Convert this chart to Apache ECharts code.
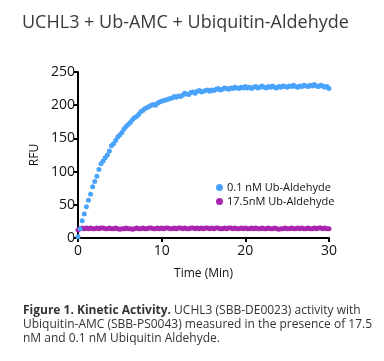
<!DOCTYPE html>
<html><head><meta charset="utf-8">
<script src="https://cdn.jsdelivr.net/npm/echarts@6/dist/echarts.min.js"></script>
<style>html,body{margin:0;padding:0;background:#fff}#c{width:384px;height:361px}</style>
</head><body><div id="c"></div>
<script>
// Time (min), sampled every 0.25 min
const times = [0,0.25,0.5,0.75,1,1.25,1.5,1.75,2,2.25,2.5,2.75,3,3.25,3.5,3.75,4,4.25,4.5,4.75,5,5.25,5.5,5.75,6,6.25,6.5,6.75,7,7.25,7.5,7.75,8,8.25,8.5,8.75,9,9.25,9.5,9.75,10,10.25,10.5,10.75,11,11.25,11.5,11.75,12,12.25,12.5,12.75,13,13.25,13.5,13.75,14,14.25,14.5,14.75,15,15.25,15.5,15.75,16,16.25,16.5,16.75,17,17.25,17.5,17.75,18,18.25,18.5,18.75,19,19.25,19.5,19.75,20,20.25,20.5,20.75,21,21.25,21.5,21.75,22,22.25,22.5,22.75,23,23.25,23.5,23.75,24,24.25,24.5,24.75,25,25.25,25.5,25.75,26,26.25,26.5,26.75,27,27.25,27.5,27.75,28,28.25,28.5,28.75,29,29.25,29.5,29.75,30];
const rfu01 = [2,14,26,36,47,57,66,77,85,93,103,112,116,121,125,131,139,142,147,152,155,159,164,168,171,174,178,181,183,186,190,192,195,196,198,200,201,200,203,205,206,207,208,209,210,211,213,212,214,213,215,218,217,216,219,220,218,221,222,220,221,222,223,221,223,222,224,225,223,224,226,225,224,226,225,227,226,225,227,226,228,226,227,225,227,228,226,227,229,227,226,228,227,229,227,226,228,227,229,228,227,229,228,230,228,227,229,228,230,229,228,230,229,231,229,228,230,229,227,228,225];
const rfu175 = [12,14,15,14,15,14,15,14,14,15,14,15,15,14,14,15,14,14,15,14,13,14,14,15,14,14,13,14,15,14,14,15,14,14,15,15,14,14,15,14,15,14,15,15,14,14,15,14,15,15,14,15,14,14,15,15,14,15,14,15,14,15,15,14,15,14,15,15,14,14,15,14,15,15,14,15,14,14,15,14,15,14,14,15,14,15,14,14,15,14,14,15,14,14,15,14,13,14,14,15,14,14,15,14,14,15,14,15,14,14,15,14,14,15,14,15,15,14,15,14,14];
const xTicks = [0,10,20,30];
const yTicks = [0,50,100,150,200,250];
const seriesNames = ['0.1 nM Ub-Aldehyde','17.5nM Ub-Aldehyde'];
const titleText = 'UCHL3 + Ub-AMC + Ubiquitin-Aldehyde';
const captionBold = 'Figure 1. Kinetic Activity.';
const captionLines = [' UCHL3 (SBB-DE0023) activity with','Ubiquitin-AMC (SBB-PS0043) measured in the presence of 17.5','nM and 0.1 nM Ubiquitin Aldehyde.'];

const chart = echarts.init(document.getElementById('c'));
const pair = (ys) => times.map((t,i)=>[t,ys[i]]);
const font = 'Open Sans';
chart.setOption({
  animation:false,
  backgroundColor:'#fff',
  title:[
    {text:titleText,left:17,top:9,textStyle:{fontFamily:font,fontSize:18,fontWeight:'normal',color:'#3a3a3a'}},
    {text:'{b|'+captionBold+'}{n|'+captionLines[0]+'}\n{n|'+captionLines[1]+'}\n{n|'+captionLines[2]+'}',
     left:18,top:299,
     textStyle:{fontWeight:'normal',fontFamily:font,fontSize:12,color:'#333',rich:{
       b:{fontFamily:font,fontSize:12,fontWeight:'bold',color:'#333',lineHeight:14},
       n:{fontFamily:font,fontSize:12,fontWeight:'normal',color:'#333',lineHeight:14}}}}
  ],
  grid:{left:78,right:55,top:72,bottom:123},
  legend:{orient:'vertical',left:211,top:177,itemGap:3,itemWidth:7,itemHeight:7,
    data:seriesNames.map(n=>({name:n,icon:'circle'})),
    textStyle:{fontFamily:font,fontSize:11,color:'#111',padding:[0,0,0,-1]}},
  xAxis:{type:'value',min:0,max:30,interval:10,
    name:'Time (Min)',nameLocation:'middle',nameGap:30,
    nameTextStyle:{fontFamily:font,fontSize:12,color:'#111'},
    axisLine:{lineStyle:{color:'#000',width:2}},
    axisTick:{show:true,length:4,lineStyle:{color:'#000',width:2}},
    axisLabel:{fontFamily:font,fontSize:14,color:'#111',margin:6,
      formatter:v=>xTicks.includes(v)?String(v):''},
    splitLine:{show:false}},
  yAxis:{type:'value',min:0,max:250,interval:50,
    name:'RFU',nameLocation:'middle',nameGap:35,nameRotate:90,
    nameTextStyle:{fontFamily:font,fontSize:12,color:'#111'},
    axisLine:{show:true,lineStyle:{color:'#000',width:2}},
    axisTick:{show:true,length:4,lineStyle:{color:'#000',width:2}},
    axisLabel:{fontFamily:font,fontSize:14,color:'#111',margin:3,
      formatter:v=>yTicks.includes(v)?String(v):''},
    splitLine:{show:false}},
  series:[
    {name:seriesNames[1],type:'scatter',data:pair(rfu175),symbolSize:5,clip:false,
      itemStyle:{color:'#a826ae',opacity:1}},
    {name:seriesNames[0],type:'scatter',data:pair(rfu01),symbolSize:5,clip:false,
      itemStyle:{color:'#4aa3fb',opacity:1}}
  ]
});
</script></body></html>
